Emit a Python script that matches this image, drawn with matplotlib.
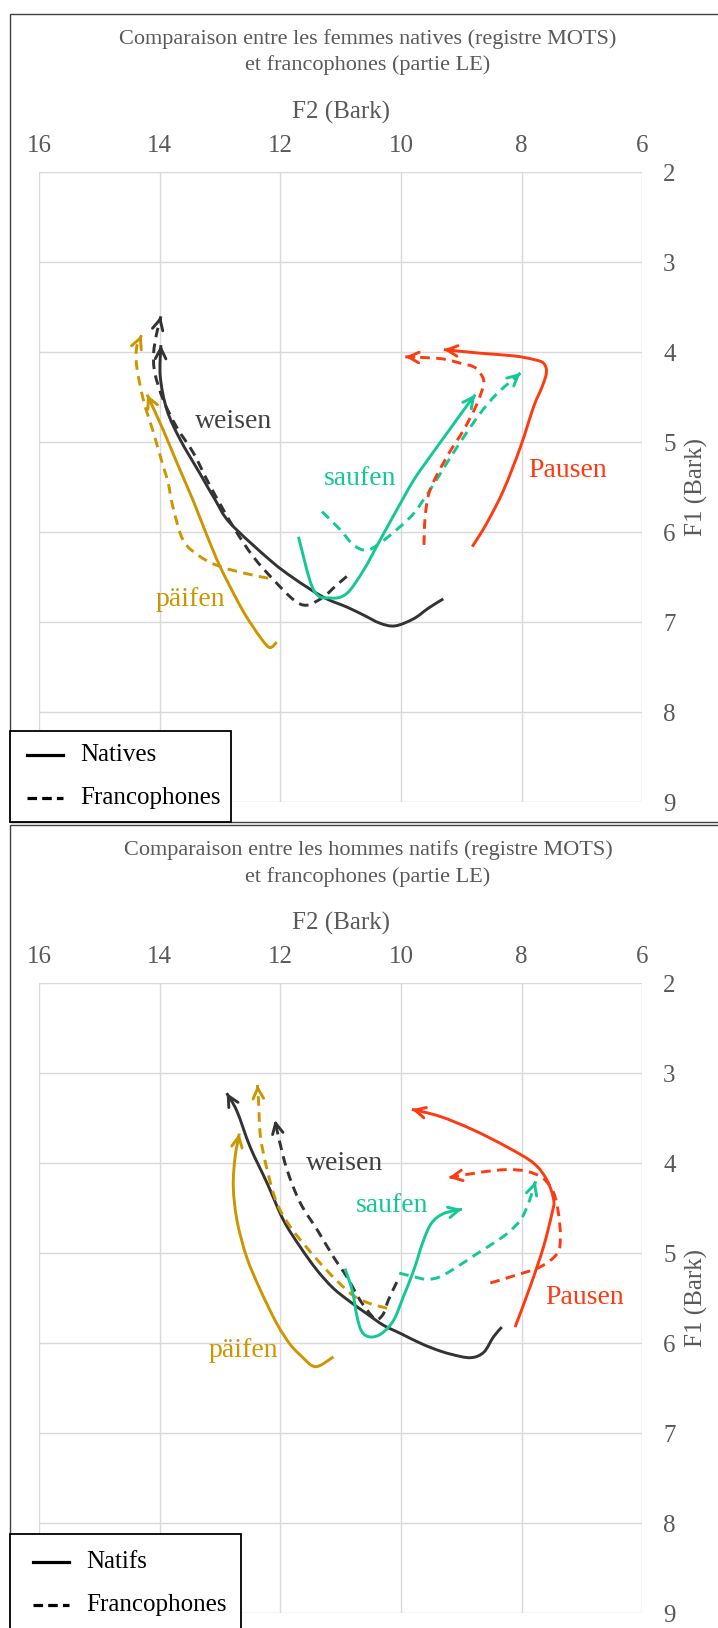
import matplotlib
matplotlib.use("Agg")
import matplotlib.pyplot as plt
from matplotlib.patches import Rectangle, PathPatch
from matplotlib.path import Path
from matplotlib.lines import Line2D

plt.rcParams['font.family'] = ['Liberation Serif', 'DejaVu Serif']

# ---------------- data (F2, F1 in Bark) ----------------
# Top panel: femmes
f_weisen_nat_f2 = [9.30, 9.54, 9.79, 10.10, 10.35, 10.62, 10.90, 11.29, 11.78, 12.17, 12.83, 13.08, 13.33, 13.66, 13.88, 13.99, 13.98]
f_weisen_nat_f1 = [6.74, 6.84, 6.96, 7.04, 7.01, 6.92, 6.83, 6.72, 6.51, 6.31, 5.90, 5.64, 5.35, 4.97, 4.64, 4.27, 3.92]
f_weisen_fr_f2 = [10.90, 11.09, 11.29, 11.56, 11.78, 12.11, 12.45, 12.78, 13.16, 13.44, 13.72, 13.94, 14.08, 14.10, 14.05, 13.98]
f_weisen_fr_f1 = [6.49, 6.60, 6.72, 6.81, 6.75, 6.53, 6.27, 5.94, 5.49, 5.12, 4.83, 4.53, 4.23, 4.01, 3.79, 3.60]
f_paifen_nat_f2 = [12.06, 12.18, 12.34, 12.56, 12.72, 13.00, 13.22, 13.45, 13.70, 13.95, 14.21]
f_paifen_nat_f1 = [7.22, 7.28, 7.16, 6.94, 6.75, 6.38, 6.03, 5.64, 5.25, 4.85, 4.47]
f_paifen_fr_f2 = [12.20, 12.56, 13.00, 13.33, 13.61, 13.78, 13.86, 13.94, 14.10, 14.27, 14.38, 14.38, 14.30]
f_paifen_fr_f1 = [6.51, 6.46, 6.38, 6.27, 6.09, 5.72, 5.45, 5.27, 4.90, 4.53, 4.16, 3.94, 3.81]
f_saufen_nat_f2 = [11.70, 11.45, 11.17, 10.90, 10.62, 10.35, 10.07, 9.79, 9.52, 9.24, 8.96, 8.77]
f_saufen_nat_f1 = [6.05, 6.64, 6.73, 6.68, 6.42, 6.09, 5.75, 5.42, 5.16, 4.90, 4.64, 4.47]
f_saufen_fr_f2 = [11.31, 11.01, 10.79, 10.57, 10.35, 10.07, 9.79, 9.52, 9.24, 8.96, 8.69, 8.41, 8.02]
f_saufen_fr_f1 = [5.77, 5.97, 6.14, 6.20, 6.12, 5.97, 5.79, 5.53, 5.23, 4.94, 4.68, 4.46, 4.23]
f_pausen_nat_f2 = [8.82, 8.58, 8.30, 8.02, 7.80, 7.66, 7.59, 7.64, 7.80, 8.13, 8.69, 9.29]
f_pausen_nat_f1 = [6.16, 5.90, 5.53, 5.05, 4.60, 4.38, 4.22, 4.12, 4.08, 4.04, 4.01, 3.97]
f_pausen_fr_f2 = [9.62, 9.60, 9.52, 9.24, 8.96, 8.74, 8.63, 8.69, 8.80, 9.02, 9.35, 9.93]
f_pausen_fr_f1 = [6.14, 5.83, 5.53, 5.16, 4.86, 4.57, 4.34, 4.23, 4.16, 4.12, 4.07, 4.05]

# Bottom panel: hommes
h_weisen_nat_f2 = [8.33, 8.47, 8.63, 8.85, 9.18, 9.46, 9.74, 10.01, 10.29, 10.57, 10.84, 11.12, 11.39, 11.67, 11.95, 12.22, 12.50, 12.72, 12.89]
h_weisen_nat_f1 = [5.82, 5.93, 6.10, 6.16, 6.12, 6.06, 5.98, 5.89, 5.80, 5.67, 5.54, 5.39, 5.19, 4.93, 4.63, 4.22, 3.82, 3.42, 3.22]
h_weisen_fr_f2 = [10.07, 10.21, 10.29, 10.40, 10.48, 10.68, 10.90, 11.12, 11.37, 11.67, 11.89, 12.03, 12.09]
h_weisen_fr_f1 = [5.32, 5.52, 5.67, 5.74, 5.70, 5.52, 5.26, 5.04, 4.76, 4.44, 4.07, 3.71, 3.52]
h_paifen_nat_f2 = [11.12, 11.42, 11.67, 11.84, 12.06, 12.33, 12.56, 12.72, 12.78, 12.75, 12.68]
h_paifen_nat_f1 = [6.15, 6.26, 6.13, 6.01, 5.78, 5.41, 5.04, 4.63, 4.26, 3.93, 3.67]
h_paifen_fr_f2 = [10.23, 10.51, 10.79, 11.07, 11.34, 11.62, 11.84, 12.06, 12.22, 12.33, 12.36, 12.38]
h_paifen_fr_f1 = [5.61, 5.56, 5.47, 5.30, 5.11, 4.89, 4.70, 4.44, 4.07, 3.70, 3.33, 3.13]
h_saufen_nat_f2 = [10.93, 10.81, 10.73, 10.65, 10.51, 10.32, 10.12, 9.96, 9.79, 9.64, 9.50, 9.30, 8.99]
h_saufen_nat_f1 = [5.17, 5.41, 5.70, 5.87, 5.93, 5.89, 5.74, 5.48, 5.19, 4.88, 4.67, 4.56, 4.51]
h_saufen_fr_f2 = [10.03, 9.79, 9.57, 9.35, 9.07, 8.80, 8.52, 8.24, 8.02, 7.91, 7.83, 7.77]
h_saufen_fr_f1 = [5.22, 5.26, 5.29, 5.26, 5.15, 5.03, 4.91, 4.78, 4.63, 4.48, 4.33, 4.20]
h_pausen_nat_f2 = [8.11, 7.86, 7.64, 7.50, 7.47, 7.58, 7.80, 8.24, 8.80, 9.35, 9.82]
h_pausen_nat_f1 = [5.82, 5.37, 4.93, 4.56, 4.41, 4.19, 4.00, 3.82, 3.63, 3.48, 3.40]
h_pausen_fr_f2 = [8.52, 8.13, 7.69, 7.41, 7.36, 7.39, 7.47, 7.64, 7.91, 8.24, 8.69, 9.21]
h_pausen_fr_f1 = [5.33, 5.25, 5.15, 5.00, 4.82, 4.56, 4.33, 4.17, 4.09, 4.07, 4.10, 4.16]

words = ["weisen", "päifen", "saufen", "Pausen"]
f_label_pos = [(12.77, 4.77), (13.49, 6.75), (10.68, 5.40), (7.24, 5.31)]
h_label_pos = [(10.93, 4.00), (12.62, 6.08), (10.15, 4.47), (6.96, 5.49)]

titles = ["Comparaison entre les femmes natives (registre MOTS)\net francophones (partie LE)",
          "Comparaison entre les hommes natifs (registre MOTS)\net francophones (partie LE)"]
legend_labels = [["Natives", "Francophones"], ["Natifs", "Francophones"]]

x_ticks = [16, 14, 12, 10, 8, 6]
y_ticks = [2, 3, 4, 5, 6, 7, 8, 9]

# ---------------- styles ----------------
COLORS = {"weisen": "#333333", "päifen": "#CC9600", "saufen": "#14C896", "Pausen": "#FF3A10"}
LABEL_COLORS = {"weisen": "#404040", "päifen": "#CC9600", "saufen": "#14C896", "Pausen": "#FF3A10"}
GRAY = "#595959"
W, H = 718, 1628
LW = 2.1
DASH = (3.3, 2.2)

fig = plt.figure(figsize=(W / 100, H / 100), dpi=100)


def fx(px):
    return px / W


def fy(py):
    return 1 - py / H


def smooth_path(xs, ys):
    """Smoothed-line rendering (Catmull-Rom as cubic Bezier) through the points."""
    pts = list(zip(xs, ys))
    n = len(pts)
    verts = [pts[0]]
    codes = [Path.MOVETO]
    for i in range(n - 1):
        p0 = pts[i - 1] if i > 0 else pts[i]
        p1 = pts[i]
        p2 = pts[i + 1]
        p3 = pts[i + 2] if i + 2 < n else pts[i + 1]
        c1 = (p1[0] + (p2[0] - p0[0]) / 6.0, p1[1] + (p2[1] - p0[1]) / 6.0)
        c2 = (p2[0] - (p3[0] - p1[0]) / 6.0, p2[1] - (p3[1] - p1[1]) / 6.0)
        verts += [c1, c2, p2]
        codes += [Path.CURVE4, Path.CURVE4, Path.CURVE4]
    return Path(verts, codes)


panels = [
    dict(top=172.3, frame_top=13.5, frame_bot=822, title_y=(39, 65),
         series=[("weisen", f_weisen_nat_f2, f_weisen_nat_f1, f_weisen_fr_f2, f_weisen_fr_f1),
                 ("päifen", f_paifen_nat_f2, f_paifen_nat_f1, f_paifen_fr_f2, f_paifen_fr_f1),
                 ("saufen", f_saufen_nat_f2, f_saufen_nat_f1, f_saufen_fr_f2, f_saufen_fr_f1),
                 ("Pausen", f_pausen_nat_f2, f_pausen_nat_f1, f_pausen_fr_f2, f_pausen_fr_f1)],
         labels=f_label_pos, legend=legend_labels[0],
         leg_box=(10, 731, 231, 822), leg_line=(27, 63), leg_text=80, leg_y=(755, 798)),
    dict(top=983.3, frame_top=825, frame_bot=1660, title_y=(850, 877),
         series=[("weisen", h_weisen_nat_f2, h_weisen_nat_f1, h_weisen_fr_f2, h_weisen_fr_f1),
                 ("päifen", h_paifen_nat_f2, h_paifen_nat_f1, h_paifen_fr_f2, h_paifen_fr_f1),
                 ("saufen", h_saufen_nat_f2, h_saufen_nat_f1, h_saufen_fr_f2, h_saufen_fr_f1),
                 ("Pausen", h_pausen_nat_f2, h_pausen_nat_f1, h_pausen_fr_f2, h_pausen_fr_f1)],
         labels=h_label_pos, legend=legend_labels[1],
         leg_box=(10, 1534, 241, 1660), leg_line=(33, 69), leg_text=86, leg_y=(1562, 1605)),
]

ax_left, ax_right = 39.0, 642.4
ax_h = 630.0

for i, p in enumerate(panels):
    # outer frame
    fig.add_artist(Rectangle((fx(10), fy(p["frame_bot"])), fx(760) - fx(10),
                             fy(p["frame_top"]) - fy(p["frame_bot"]),
                             transform=fig.transFigure, fill=False,
                             edgecolor="#404040", lw=1.0, zorder=0))
    # title
    t1, t2 = titles[i].split("\n")
    fig.text(fx(368), fy(p["title_y"][0]), t1, ha="center", va="center", fontsize=16, color=GRAY)
    fig.text(fx(368), fy(p["title_y"][1]), t2, ha="center", va="center", fontsize=16, color=GRAY)

    ax = fig.add_axes([fx(ax_left), fy(p["top"] + ax_h), fx(ax_right) - fx(ax_left), ax_h / H])
    ax.set_xlim(16, 6)
    ax.set_ylim(9, 2)
    ax.set_xticks(x_ticks)
    ax.set_yticks(y_ticks)
    ax.xaxis.tick_top()
    ax.yaxis.tick_right()
    ax.tick_params(length=0, labelsize=18, labelcolor=GRAY)
    ax.tick_params(axis="x", pad=11)
    ax.tick_params(axis="y", pad=15)
    ax.grid(True, color="#D9D9D9", lw=1.0)
    ax.set_axisbelow(True)
    for s in ax.spines.values():
        s.set_visible(False)
    ax.set_xlabel("F2 (Bark)", fontsize=18, color=GRAY)
    ax.xaxis.set_label_position("top")
    ax.xaxis.set_label_coords(0.5, (ax_h + (172.3 - 112)) / ax_h)
    ax.xaxis.label.set_va("center")
    ax.set_ylabel("F1 (Bark)", fontsize=18, color=GRAY)
    ax.yaxis.set_label_position("right")
    ax.yaxis.set_label_coords((696 - ax_left) / (ax_right - ax_left), 0.5)
    ax.yaxis.label.set_va("center")
    ax.yaxis.label.set_rotation(90)
    ax.patch.set_alpha(0)

    for (word, n2, n1, r2, r1) in p["series"]:
        c = COLORS[word]
        for xs, ys, ls in ((n2, n1, "-"), (r2, r1, "--")):
            patch = PathPatch(smooth_path(xs, ys), fill=False, edgecolor=c, lw=LW,
                              capstyle="butt", joinstyle="round",
                              transform=ax.transData)
            if ls == "--":
                patch.set_linestyle((0, DASH))
            ax.add_patch(patch)
            # arrow head at the end of the trajectory
            x0, y0 = xs[-2], ys[-2]
            x1, y1 = xs[-1], ys[-1]
            xa = x1 + 0.25 * (x0 - x1)
            ya = y1 + 0.25 * (y0 - y1)
            ax.annotate("", xy=(x1, y1), xytext=(xa, ya),
                        arrowprops=dict(arrowstyle="->,head_length=0.75,head_width=0.38",
                                        color=c, lw=LW, shrinkA=0, shrinkB=0))
    for word, (lx, ly) in zip(words, p["labels"]):
        ax.text(lx, ly, word, fontsize=20, color=LABEL_COLORS[word], ha="center", va="center")

    # legend box
    bx0, by0, bx1, by1 = p["leg_box"]
    fig.add_artist(Rectangle((fx(bx0), fy(by1)), fx(bx1) - fx(bx0), fy(by0) - fy(by1),
                             transform=fig.transFigure, facecolor="white",
                             edgecolor="black", lw=1.3, zorder=5))
    for j, (lab, ls) in enumerate(zip(p["legend"], ["-", "--"])):
        yy = fy(p["leg_y"][j])
        ln = Line2D([fx(p["leg_line"][0]), fx(p["leg_line"][1])], [yy, yy],
                    transform=fig.transFigure, color="black", lw=2.3, zorder=6)
        if ls == "--":
            ln.set_dashes((3.0, 1.6))
        fig.add_artist(ln)
        fig.text(fx(p["leg_text"]), yy, lab, fontsize=18, color="black",
                 ha="left", va="center", zorder=7)

fig.savefig("out.png", dpi=100)
